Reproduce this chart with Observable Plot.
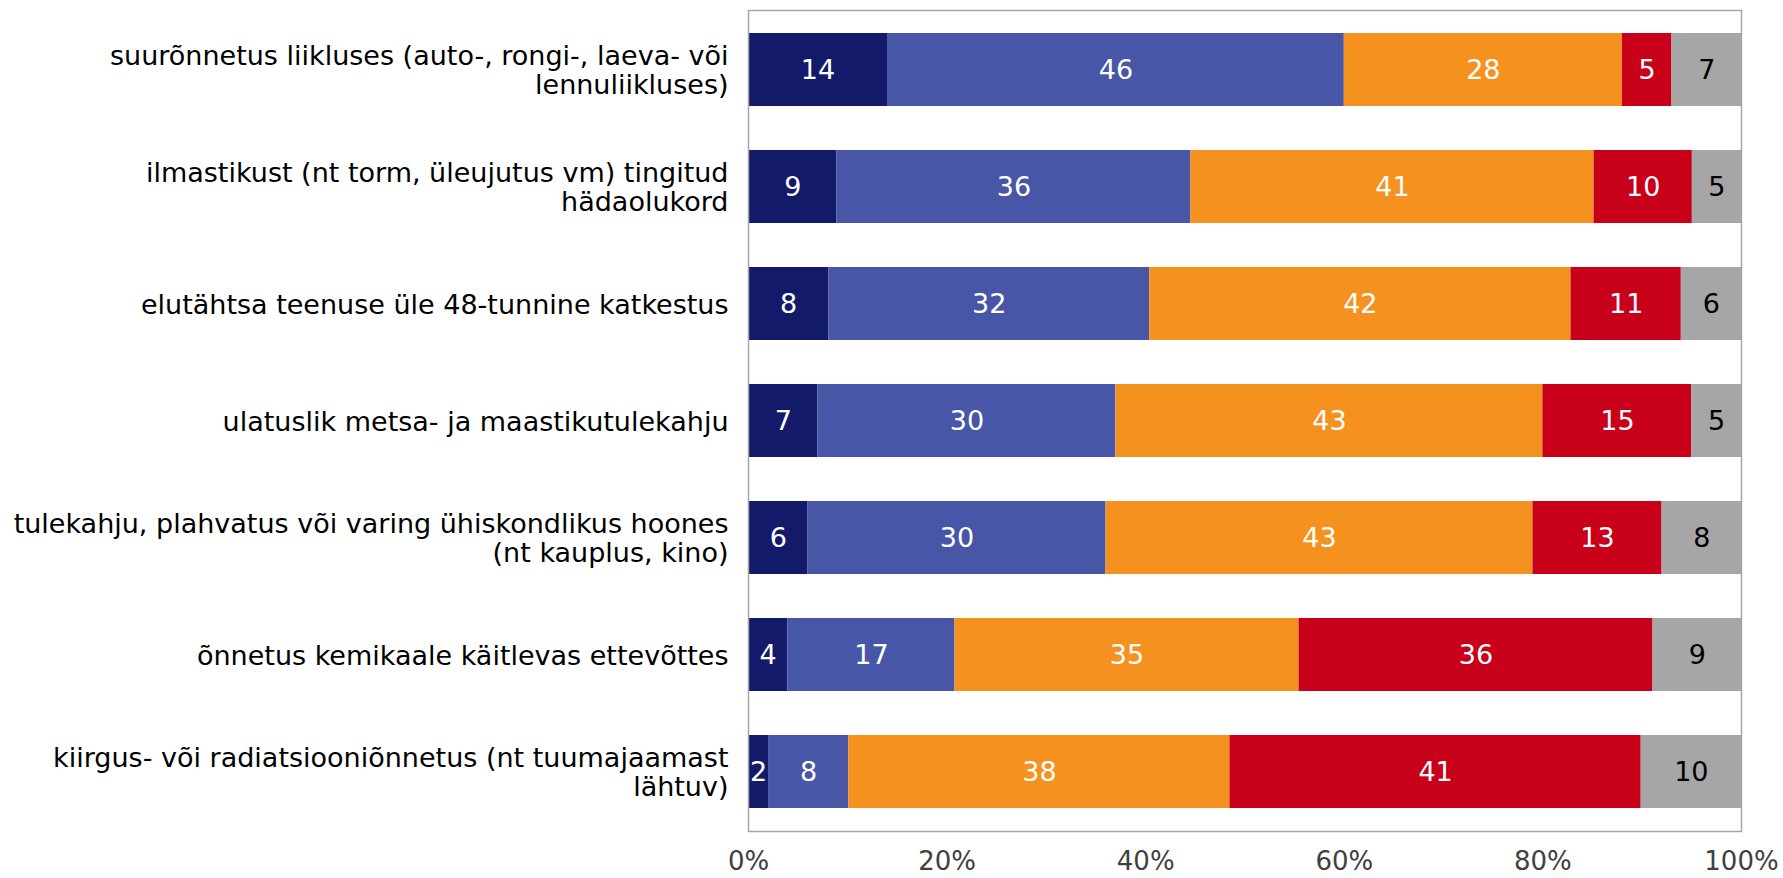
<!DOCTYPE html>
<html><head><meta charset="utf-8">
<script src="https://cdn.jsdelivr.net/npm/d3@7"></script>
<script src="https://cdn.jsdelivr.net/npm/@observablehq/plot@0.6"></script>
<style>html,body{margin:0;padding:0;background:#fff;overflow:hidden}</style>
</head><body><div id="chart"></div><script>
const categories = [
  "suurõnnetus liikluses (auto-, rongi-, laeva- või lennuliikluses)",
  "ilmastikust (nt torm, üleujutus vm) tingitud hädaolukord",
  "elutähtsa teenuse üle 48-tunnine katkestus",
  "ulatuslik metsa- ja maastikutulekahju",
  "tulekahju, plahvatus või varing ühiskondlikus hoones (nt kauplus, kino)",
  "õnnetus kemikaale käitlevas ettevõttes",
  "kiirgus- või radiatsiooniõnnetus (nt tuumajaamast lähtuv)"
];
const categoryLabels = [
  "suurõnnetus liikluses (auto-, rongi-, laeva- või\nlennuliikluses)",
  "ilmastikust (nt torm, üleujutus vm) tingitud\nhädaolukord",
  "elutähtsa teenuse üle 48-tunnine katkestus",
  "ulatuslik metsa- ja maastikutulekahju",
  "tulekahju, plahvatus või varing ühiskondlikus hoones\n(nt kauplus, kino)",
  "õnnetus kemikaale käitlevas ettevõttes",
  "kiirgus- või radiatsiooniõnnetus (nt tuumajaamast\nlähtuv)"
];
const seriesNames = ["väga tõenäoline", "pigem tõenäoline", "pigem ebatõenäoline", "väga ebatõenäoline", "ei oska öelda"];
const seriesColors = ["#141a6a", "#4756a6", "#f5911e", "#c8001a", "#a6a6a6"];
const veryLikely     = [14, 9, 8, 7, 6, 4, 2];
const ratherLikely   = [46, 36, 32, 30, 30, 17, 8];
const ratherUnlikely = [28, 41, 42, 43, 43, 35, 38];
const veryUnlikely   = [5, 10, 11, 15, 13, 36, 41];
const dontKnow       = [7, 5, 6, 5, 8, 9, 10];
const xTicks = [0, 0.2, 0.4, 0.6, 0.8, 1];

const seriesValues = [veryLikely, ratherLikely, ratherUnlikely, veryUnlikely, dontKnow];
const rows = categories.flatMap((c, i) => seriesNames.map((s, j) => ({category: c, series: s, value: seriesValues[j][i]})));
const pct = d => Math.round(d * 100) + "%";
const lastSeries = seriesNames[seriesNames.length - 1];

const chart = Plot.plot({
  width: 1783, height: 878,
  marginLeft: 748, marginRight: 42, marginTop: 10, marginBottom: 47,
  style: {fontFamily: "'DejaVu Sans', Verdana, sans-serif", fontSize: "27px", background: "#fff"},
  x: {domain: [0, 1], label: null},
  y: {domain: categories, paddingInner: 0.376, paddingOuter: 0.188, label: null},
  color: {domain: seriesNames, range: seriesColors},
  marks: [
    Plot.barX(rows, Plot.stackX({offset: "normalize", x: "value", y: "category", fill: "series"})),
    Plot.textX(rows, Plot.stackX({offset: "normalize", x: "value", y: "category", z: "series",
      text: d => d.series === lastSeries ? null : d.value, fill: "#fff", fontSize: 27})),
    Plot.textX(rows, Plot.stackX({offset: "normalize", x: "value", y: "category", z: "series",
      text: d => d.series === lastSeries ? d.value : null, fill: "#000", fontSize: 27})),
    Plot.frame({stroke: "#a6a6a6", strokeWidth: 1.5}),
    Plot.axisX({ticks: xTicks, tickFormat: pct, tickSize: 0, tickPadding: 20, fontSize: 26, fill: "#404040", label: null}),
    Plot.axisY({tickSize: 0, tickPadding: 20, fontSize: 27, fill: "#000", lineHeight: 1.1, label: null,
      tickFormat: d => categoryLabels[categories.indexOf(d)]})
  ]
});
document.getElementById("chart").append(chart);
</script></body></html>
